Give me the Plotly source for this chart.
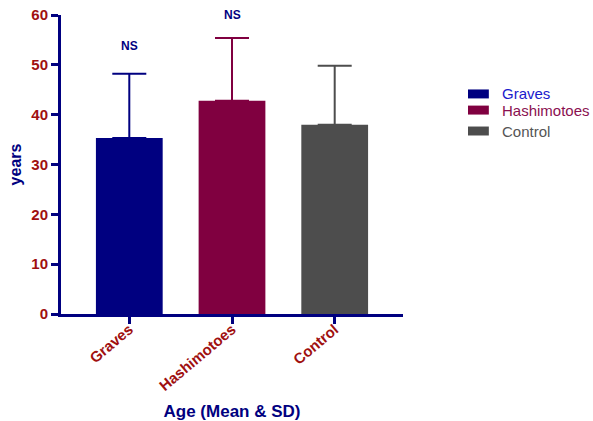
import plotly.graph_objects as go

# Age summary per group
groups = ["Graves", "Hashimotoes", "Control"]
mean_age = [35.3, 42.8, 38.0]
sd_age = [12.9, 12.6, 11.8]
bar_colors = ["#000080", "#800040", "#4d4d4d"]
legend_text_colors = ["#1a1acc", "#8a1050", "#555555"]
ns_groups = ["Graves", "Hashimotoes"]
ns_y = [53.8, 60.0]

NAVY = "#000080"
TICK_RED = "#a01010"
FONT = "Liberation Sans, Arial, sans-serif"

fig = go.Figure()
for g, m, s, c in zip(groups, mean_age, sd_age, bar_colors):
    fig.add_trace(go.Bar(
        x=[g], y=[m], name=g,
        marker=dict(color=c, line=dict(width=0)),
        width=0.65,
        error_y=dict(type="data", array=[s], symmetric=False, arrayminus=[0],
                     color=c, thickness=2, width=17),
        showlegend=False,
    ))

# "NS" significance labels
for g, y in zip(ns_groups, ns_y):
    fig.add_annotation(x=g, y=y, text="<b>NS</b>", showarrow=False,
                       font=dict(family=FONT, size=12, color=NAVY),
                       xref="x", yref="y")

# Legend drawn as swatches with coloured labels
leg_y = [0.736, 0.682, 0.612]
for g, c, tc, ly in zip(groups, bar_colors, legend_text_colors, leg_y):
    fig.add_shape(type="rect", xref="paper", yref="paper",
                  x0=1.19, x1=1.251, y0=ly - 0.015, y1=ly + 0.015,
                  fillcolor=c, line=dict(width=0))
    fig.add_annotation(xref="paper", yref="paper", x=1.285, y=ly, text=g,
                       showarrow=False, xanchor="left", yanchor="middle",
                       font=dict(family=FONT, size=15, color=tc))

fig.update_layout(
    width=593, height=421,
    margin=dict(l=61, r=190, t=15, b=107, autoexpand=False),
    paper_bgcolor="white", plot_bgcolor="white",
    bargap=0.35,
    font=dict(family=FONT),
    xaxis=dict(
        range=[-0.665, 2.665], showline=True, linecolor=NAVY, linewidth=3,
        ticks="outside", tickcolor=NAVY, tickwidth=3, ticklen=7,
        tickangle=-40, showgrid=False, zeroline=False, automargin=False,
        ticklabelstandoff=-9,
        tickfont=dict(family=FONT, size=15, color=TICK_RED, weight="bold"),
        title=dict(text="<b>Age (Mean & SD)</b>", standoff=16,
                   font=dict(family=FONT, size=17, color=NAVY)),
    ),
    yaxis=dict(
        range=[0, 60], dtick=10, showline=True, linecolor=NAVY, linewidth=3,
        ticks="outside", tickcolor=NAVY, tickwidth=3, ticklen=7,
        showgrid=False, zeroline=False, automargin=False,
        tickfont=dict(family=FONT, size=15, color=TICK_RED, weight="bold"),
        title=dict(text="<b>years</b>", standoff=6,
                   font=dict(family=FONT, size=16, color=NAVY)),
    ),
)

fig.write_html("out.html")
